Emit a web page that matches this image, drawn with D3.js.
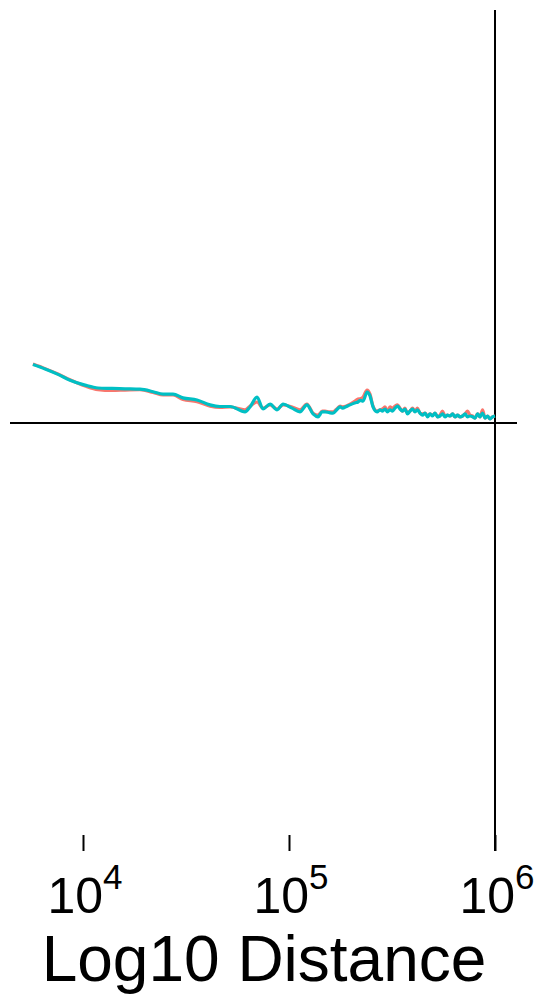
<!DOCTYPE html>
<html>
<head>
<meta charset="utf-8">
<script src="https://cdn.jsdelivr.net/npm/d3@7"></script>
<style>
  html, body { margin: 0; padding: 0; background: #fff; }
  svg { display: block; }
</style>
</head>
<body>
<svg id="chart" width="537" height="996"></svg>
<script>
// ---- data ----
const distances = [5715, 6548, 7564, 8650, 10230, 11825, 13830, 16000, 18910, 21890, 24460, 27360, 30570, 35750, 41370, 46240, 51740, 61150, 64700, 69950, 74830, 80940, 87530, 93600, 103500, 113000, 122200, 130800, 138300, 145000, 149600, 157000, 163600, 172000, 177000, 182000, 190000, 197900, 210000, 216400, 222000, 228800, 239300, 247300, 255800, 267500,
  276500, 284400, 292400, 300700, 309300, 318000, 327000, 336300, 345800, 355600, 365700, 376100, 386700, 397700, 409000, 420600, 432500, 444800, 457400, 470300, 483700, 497400, 511500, 526000, 540900, 556300, 572100, 588300, 605000, 622100, 639800, 657900, 676600, 695800, 715500, 735800, 756600, 778100, 800000, 822600, 845900, 869900, 894600, 919900, 946000, 972800, 1000000];

const seriesA = [0.143, 0.132, 0.119, 0.105, 0.090, 0.081, 0.079, 0.080, 0.081, 0.074, 0.068, 0.068, 0.057, 0.052, 0.041, 0.038, 0.039, 0.032, 0.041, 0.051, 0.036, 0.044, 0.034, 0.044, 0.039, 0.032, 0.046, 0.024, 0.019, 0.029, 0.029, 0.027, 0.027, 0.036, 0.041, 0.039, 0.041, 0.046, 0.054, 0.058, 0.059, 0.063, 0.080, 0.070, 0.041, 0.029,
  0.032, 0.034, 0.039, 0.029, 0.039, 0.036, 0.041, 0.044, 0.036, 0.029, 0.036, 0.024, 0.029, 0.036, 0.029, 0.036, 0.024, 0.022, 0.024, 0.017, 0.022, 0.019, 0.024, 0.015, 0.019, 0.029, 0.017, 0.019, 0.017, 0.022, 0.015, 0.019, 0.015, 0.017, 0.022, 0.029, 0.019, 0.017, 0.012, 0.022, 0.015, 0.032, 0.012, 0.017, 0.010, 0.015, 0.017];

const seriesB = [0.142, 0.131, 0.118, 0.104, 0.092, 0.085, 0.084, 0.083, 0.082, 0.076, 0.070, 0.070, 0.061, 0.056, 0.044, 0.040, 0.040, 0.027, 0.039, 0.063, 0.034, 0.046, 0.032, 0.046, 0.036, 0.027, 0.044, 0.022, 0.015, 0.027, 0.027, 0.025, 0.024, 0.034, 0.039, 0.036, 0.040, 0.044, 0.049, 0.051, 0.055, 0.053, 0.075, 0.066, 0.039, 0.027,
  0.032, 0.029, 0.034, 0.027, 0.032, 0.029, 0.036, 0.041, 0.034, 0.029, 0.034, 0.022, 0.029, 0.034, 0.027, 0.032, 0.024, 0.019, 0.024, 0.015, 0.022, 0.017, 0.024, 0.015, 0.017, 0.022, 0.015, 0.019, 0.017, 0.022, 0.015, 0.019, 0.015, 0.017, 0.022, 0.015, 0.017, 0.015, 0.012, 0.022, 0.015, 0.024, 0.012, 0.017, 0.010, 0.015, 0.017];

const tickValues = [1e4, 1e5, 1e6];
const tickExponents = ["4", "5", "6"];
const xTitle = "Log10 Distance";

// ---- scales ----
const svg = d3.select("#chart");
const x = d3.scaleLog().domain([1e4, 1e6]).range([83, 495]);
const y = d3.scaleLinear().domain([-1, 1]).range([835, 11]);

// reference lines
svg.append("line")
  .attr("x1", 10).attr("x2", 517)
  .attr("y1", y(0)).attr("y2", y(0))
  .attr("stroke", "#000").attr("stroke-width", 2);
svg.append("line")
  .attr("x1", x(1e6)).attr("x2", x(1e6))
  .attr("y1", 10).attr("y2", 851)
  .attr("stroke", "#000").attr("stroke-width", 2);

// series
const line = d3.line().x(d => x(d[0])).y(d => y(d[1])).curve(d3.curveMonotoneX);
const colors = ["#F8766D", "#00BFC4"];
[seriesA, seriesB].forEach((s, i) => {
  svg.append("path")
    .datum(distances.map((dv, j) => [dv, s[j]]))
    .attr("d", line)
    .attr("fill", "none")
    .attr("stroke", colors[i])
    .attr("stroke-width", 3.2)
    .attr("stroke-linejoin", "round")
    .attr("stroke-linecap", "butt");
});

// x axis (ticks only, no domain line)
const axis = svg.append("g").attr("transform", "translate(0,835)")
  .call(d3.axisBottom(x).tickValues(tickValues).tickSize(16).tickFormat(""));
axis.select(".domain").remove();
axis.selectAll(".tick line").attr("stroke", "#000").attr("stroke-width", 2);

// tick labels with superscripts
const labels = svg.append("g");
tickValues.forEach((t, i) => {
  const txt = labels.append("text")
    .attr("x", x(t) + 2)
    .attr("y", 913)
    .attr("text-anchor", "middle")
    .attr("font-family", "'Liberation Sans', Arial, sans-serif")
    .attr("font-size", 50)
    .attr("fill", "#000");
  txt.append("tspan").text("10");
  txt.append("tspan").attr("dy", -24).attr("font-size", 35).text(tickExponents[i]);
});

// axis title
svg.append("text")
  .attr("x", 264).attr("y", 981)
  .attr("text-anchor", "middle")
  .attr("font-family", "'Liberation Sans', Arial, sans-serif")
  .attr("font-size", 64)
  .attr("fill", "#000")
  .text(xTitle);
</script>
</body>
</html>
